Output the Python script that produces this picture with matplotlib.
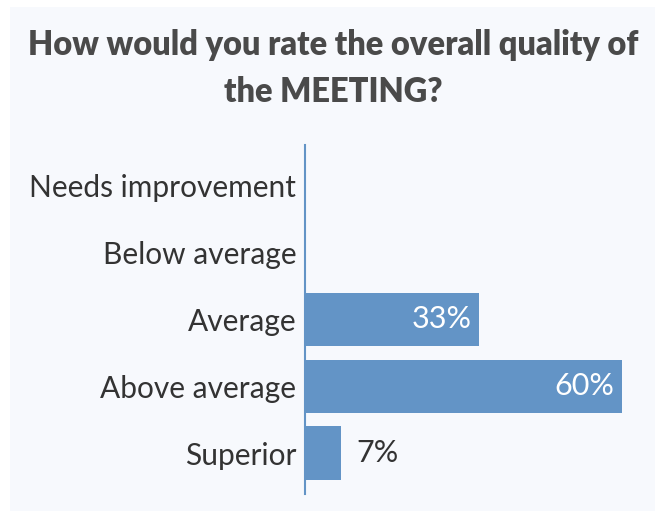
import matplotlib
matplotlib.use("Agg")
import matplotlib.pyplot as plt
from matplotlib.patches import Rectangle

categories = ["Needs improvement", "Below average", "Average", "Above average", "Superior"]
values = [0, 0, 33, 60, 7]
labels = ["", "", "33%", "60%", "7%"]
inside = [False, False, True, True, False]

BAR = "#6394c6"
BG = "#f7f9fd"
TXT = "#333333"
TITLE = "#4a4a4a"

plt.rcParams["font.family"] = ["Lato", "DejaVu Sans"]

W, H = 660, 511
fig = plt.figure(figsize=(W / 100, H / 100), dpi=100, facecolor="white")
fig.patches.append(Rectangle((10 / W, 0), 645 / W, (H - 7) / H, transform=fig.transFigure,
                             facecolor=BG, edgecolor="none", zorder=-10))

ax = fig.add_axes([304.5 / W, (H - 494) / H, (640 - 304.5) / W, (494 - 145) / H])
ax.set_facecolor("none")
y = list(range(len(categories)))
ax.barh(y, values, height=0.8, color=BAR)
ax.set_ylim(len(categories) - 1 + 0.61, -0.61)
ax.set_xlim(0, 63.5)
ax.set_yticks(y)
ax.set_yticklabels(categories, fontsize=21.5, color=TXT)
ax.tick_params(axis="y", length=0, pad=6)
ax.set_xticks([])
for s in ["top", "right", "bottom"]:
    ax.spines[s].set_visible(False)
ax.spines["left"].set_color(BAR)
ax.spines["left"].set_linewidth(1.5)

for yi, v, lab, ins in zip(y, values, labels, inside):
    if not lab:
        continue
    if ins:
        ax.annotate(lab, (v, yi), xytext=(-5, 0), textcoords="offset points",
                    ha="right", va="center", color="white", fontsize=22)
    else:
        ax.annotate(lab, (v, yi), xytext=(11, 0), textcoords="offset points",
                    ha="left", va="center", color=TXT, fontsize=22)

fig.text(333 / W, 1 - 45 / H, "How would you rate the overall quality of",
         ha="center", va="center", fontsize=23.5, fontweight="heavy", color=TITLE)
fig.text(333 / W, 1 - 92 / H, "the MEETING?",
         ha="center", va="center", fontsize=23.5, fontweight="heavy", color=TITLE)

fig.savefig("out.png", dpi=100, facecolor="white")
